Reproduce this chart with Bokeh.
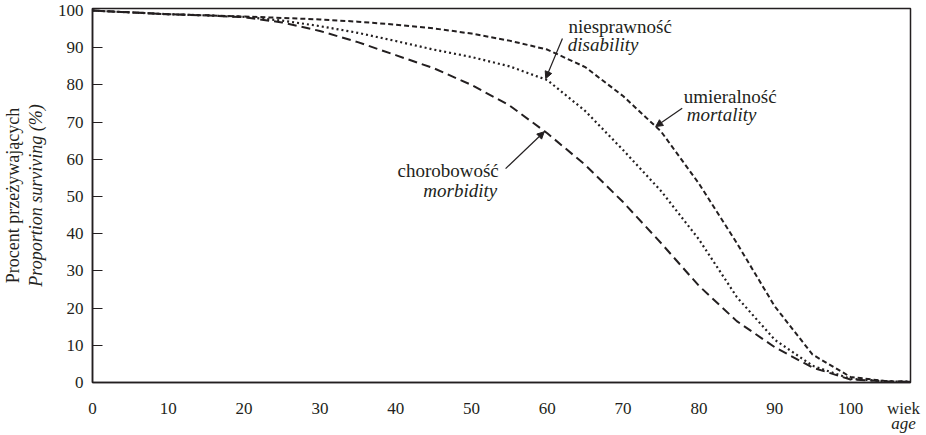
from bokeh.plotting import figure
from bokeh.models import Range1d, FixedTicker, Label, Arrow, NormalHead, LinearAxis, Title
from bokeh.embed import file_html
from bokeh.resources import INLINE

# ---- data ----
ages = [0, 5, 10, 15, 20, 25, 30, 35, 40, 45, 50, 55, 60, 65, 70, 75, 80, 85, 90, 95, 100, 105, 108]
mortality = [100, 99.5, 99.0, 98.7, 98.4, 98.0, 97.6, 97.0, 96.2, 95.2, 93.8, 91.9, 89.5, 84.8, 77.0,
             67.5, 53.5, 37.5, 20.5, 7.5, 1.5, 0.3, 0.2]
disability = [100, 99.5, 99.0, 98.7, 98.3, 97.3, 95.8, 94.0, 91.8, 89.5, 87.5, 85.0, 81.3, 73.0, 62.5,
              51.5, 38.5, 23.0, 11.5, 4.5, 1.0, 0.3, 0.2]
morbidity = [100, 99.5, 99.0, 98.7, 98.2, 96.8, 94.5, 91.5, 88.0, 84.5, 80.0, 74.5, 67.0, 58.5, 48.5,
             37.5, 26.0, 16.5, 9.5, 4.0, 0.8, 0.3, 0.2]
x_ticks = [0, 10, 20, 30, 40, 50, 60, 70, 80, 90, 100]
y_ticks = [0, 10, 20, 30, 40, 50, 60, 70, 80, 90, 100]
x_title_pos = 107
x_title = "wiek"
x_title_en = "age"
y_title = "Procent przeżywających"
y_title_en = "Proportion surviving (%)"

INK = "#231f20"
SERIF = "Liberation Serif"

p = figure(width=926, height=435, output_backend="svg", toolbar_location=None,
           x_range=Range1d(0, 107.92), y_range=Range1d(0, 100.54),
           min_border_left=92, min_border_right=16, min_border_top=8, min_border_bottom=53)

p.grid.visible = False
p.outline_line_color = INK
p.outline_line_width = 1.5
p.background_fill_color = "white"
p.border_fill_color = "white"

# axes
p.xaxis.ticker = FixedTicker(ticks=x_ticks + [x_title_pos])
p.xaxis.major_label_overrides = {x_title_pos: x_title}
p.yaxis.ticker = FixedTicker(ticks=y_ticks)
for ax in (p.xaxis, p.yaxis):
    ax.axis_line_color = INK
    ax.axis_line_width = 1.5
    ax.major_tick_line_color = INK
    ax.major_tick_line_width = 1.2
    ax.minor_tick_line_color = None
    ax.major_label_text_font = SERIF
    ax.major_label_text_font_size = "17px"
    ax.major_label_text_color = INK
p.xaxis.major_tick_in = 0
p.xaxis.major_tick_out = 0
p.xaxis.major_label_standoff = 16
p.yaxis.major_tick_in = 10
p.yaxis.major_tick_out = 0
p.yaxis.major_label_standoff = 9
p.yaxis.axis_label = y_title_en
p.yaxis.axis_label_text_font = SERIF
p.yaxis.axis_label_text_font_size = "18px"
p.yaxis.axis_label_text_font_style = "italic"
p.yaxis.axis_label_text_color = INK
p.yaxis.axis_label_standoff = 9

# second line under the x tick labels: "age"
ax2 = LinearAxis(ticker=FixedTicker(ticks=[x_title_pos]),
                 major_label_overrides={x_title_pos: x_title_en},
                 axis_line_color=None, major_tick_line_color=None, minor_tick_line_color=None,
                 major_tick_in=0, major_tick_out=0, major_label_standoff=-7,
                 major_label_text_font=SERIF, major_label_text_font_size="17px",
                 major_label_text_font_style="italic", major_label_text_color=INK)
p.add_layout(ax2, "below")

# outer y title line
p.add_layout(Title(text=y_title, text_font=SERIF, text_font_size="18px",
                   text_font_style="normal", text_color=INK, align="center", standoff=0), "left")

# curves
p.line(ages, mortality, line_color=INK, line_width=2, line_dash="5 3")
p.line(ages, disability, line_color=INK, line_width=2.2, line_dash="2 3")
p.line(ages, morbidity, line_color=INK, line_width=2, line_dash="9 5")

def lab(x, y, text, style="normal", align="left", size="19px"):
    p.add_layout(Label(x=x, y=y, text=text, text_font=SERIF, text_font_size=size,
                       text_font_style=style, text_color=INK, text_align=align,
                       text_baseline="middle"))

# annotations
lab(62.8, 95.7, "niesprawność")
lab(62.7, 90.9, "disability", "italic")
lab(78.0, 76.9, "umieralność")
lab(78.4, 72.0, "mortality", "italic")
lab(53.6, 57.0, "chorobowość", align="right")
lab(53.4, 51.6, "morbidity", "italic", align="right")

arrows = [((62.0, 92.5), (59.8, 81.7)),
          ((77.8, 73.7), (74.3, 68.8)),
          ((54.5, 57.5), (59.6, 67.4))]
for (x0, y0), (x1, y1) in arrows:
    p.add_layout(Arrow(end=NormalHead(size=7, fill_color=INK, line_color=INK, line_width=1),
                       x_start=x0, y_start=y0, x_end=x1, y_end=y1,
                       line_color=INK, line_width=1.2))

open("out.html", "w").write(file_html(p, INLINE))
